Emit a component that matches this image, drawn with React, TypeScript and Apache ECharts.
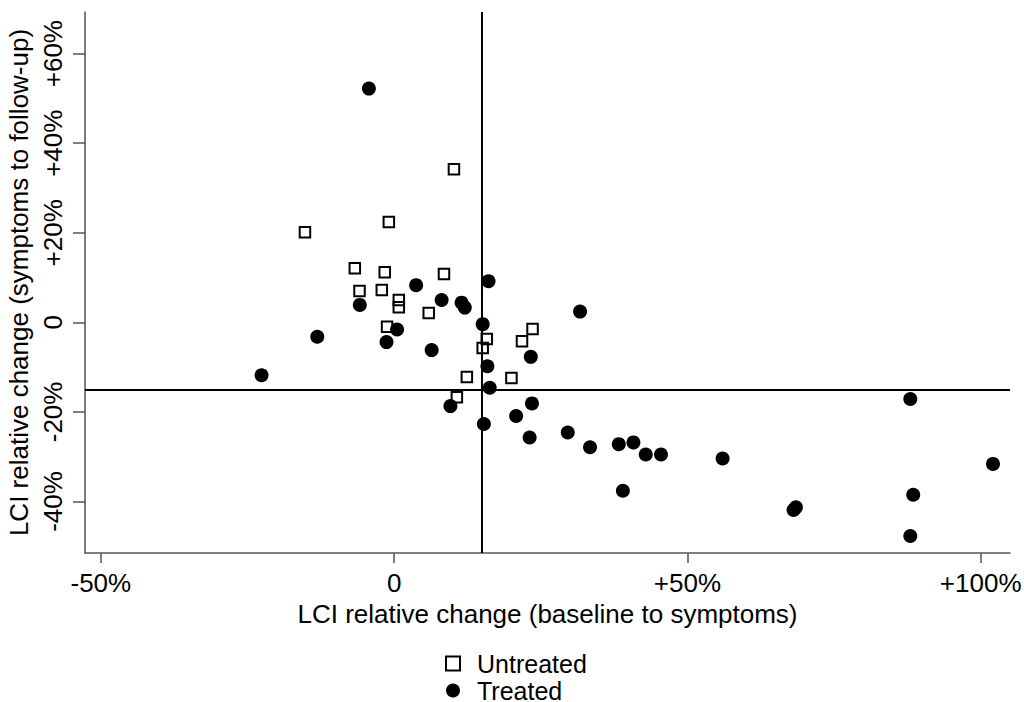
import React, { useEffect, useRef } from "react";
import * as echarts from "echarts";

const untreated: [number, number][] = [
  [10.2, 34.2], [-0.9, 22.4], [-15.2, 20.1], [-6.7, 12.1], [-1.6, 11.2],
  [8.5, 10.8], [-5.9, 7.0], [-2.1, 7.2], [0.8, 5.0], [0.8, 3.4],
  [5.9, 2.1], [-1.2, -1.0], [23.6, -1.5], [21.8, -4.2], [15.8, -3.7],
  [15.1, -5.7], [12.4, -12.2], [20.0, -12.4], [10.7, -16.7],
];

const treated: [number, number][] = [
  [-4.3, 52.2], [3.75, 8.3], [16.1, 9.2], [-5.85, 3.9], [8.1, 5.0],
  [11.5, 4.4], [12.05, 3.3], [15.1, -0.4], [-13.1, -3.2], [0.5, -1.6],
  [-1.3, -4.4], [6.4, -6.2], [15.9, -9.8], [-22.6, -11.8], [16.3, -14.6],
  [9.6, -18.7], [15.3, -22.7], [20.8, -20.9], [31.7, 2.4], [23.3, -7.7],
  [23.5, -18.1], [23.1, -25.7], [29.6, -24.6], [33.4, -27.9], [38.3, -27.2],
  [40.8, -26.8], [42.9, -29.5], [45.5, -29.5], [56.0, -30.4], [39.0, -37.6],
  [68.5, -41.3], [68.1, -41.9], [88.0, -17.1], [88.5, -38.5], [88.0, -47.7],
  [102.1, -31.6],
];

const xTicks = [-50, 0, 50, 100];
const yTicks = [-40, -20, 0, 20, 40, 60];
const refX = 15;
const refY = -15;

const fmt = (v: number) => (v === 0 ? "0" : v > 0 ? "+" + v + "%" : v + "%");

const FONT = "Liberation Sans, Arial, sans-serif";

export default function App() {
  const ref = useRef<HTMLDivElement>(null);
  useEffect(() => {
    if (!ref.current) return;
    const chart = echarts.init(ref.current, undefined, { renderer: "svg" });
    chart.setOption({
      animation: false,
      backgroundColor: "#fff",
      textStyle: { fontFamily: FONT, color: "#000" },
      grid: { left: 85, right: 14, top: 12, bottom: 149, containLabel: false, outerBoundsMode: "none" },
      legend: {
        orient: "vertical",
        left: 445,
        top: 651,
        width: 200,
        height: 90,
        padding: 0,
        itemGap: 2,
        itemWidth: 14,
        itemHeight: 14,
        textStyle: { fontSize: 25, fontFamily: FONT, color: "#000", padding: [0, 0, 0, 12], lineHeight: 24 },
        data: [
          { name: "Untreated", icon: "rect", itemStyle: { color: "transparent", borderColor: "#000", borderWidth: 2, opacity: 1 } },
          { name: "Treated", icon: "circle", itemStyle: { color: "#000", opacity: 1 } },
        ],
      },
      xAxis: {
        type: "value",
        min: -52.7,
        max: 105,
        name: "LCI relative change (baseline to symptoms)",
        nameLocation: "middle",
        nameGap: 46,
        nameTextStyle: { fontSize: 26, fontFamily: FONT, color: "#000" },
        splitLine: { show: false },
        axisLine: { show: true, onZero: false, lineStyle: { color: "#555", width: 1.5 } },
        axisTick: { show: true, length: 10, customValues: xTicks, lineStyle: { color: "#555", width: 1.5 } },
        axisLabel: { customValues: xTicks, formatter: fmt, fontSize: 26, fontFamily: FONT, color: "#000", margin: 17 },
      },
      yAxis: {
        type: "value",
        min: -51.5,
        max: 69.3,
        name: "LCI relative change (symptoms to follow-up)",
        nameLocation: "middle",
        nameGap: 52,
        nameRotate: 90,
        nameTextStyle: { fontSize: 26, fontFamily: FONT, color: "#000" },
        splitLine: { show: false },
        axisLine: { show: true, onZero: false, lineStyle: { color: "#555", width: 1.5 } },
        axisTick: { show: true, length: 12, customValues: yTicks, lineStyle: { color: "#555", width: 1.5 } },
        axisLabel: { customValues: yTicks, formatter: fmt, rotate: 90, fontSize: 26, fontFamily: FONT, color: "#000", margin: 19 },
      },
      series: [
        {
          name: "Untreated",
          type: "scatter",
          data: untreated,
          symbol: "rect",
          symbolSize: 10.5,
          itemStyle: { color: "transparent", borderColor: "#000", borderWidth: 2, opacity: 1 },
          z: 3,
        },
        {
          name: "Treated",
          type: "scatter",
          data: treated,
          symbol: "circle",
          symbolSize: 14,
          itemStyle: { color: "#000", opacity: 1 },
          z: 3,
          markLine: {
            silent: true,
            symbol: "none",
            label: { show: false },
            lineStyle: { color: "#000", width: 2, type: "solid", opacity: 1 },
            data: [{ xAxis: refX }, { yAxis: refY }],
          },
        },
      ],
    });
    return () => chart.dispose();
  }, []);
  return <div ref={ref} style={{ position: "absolute", left: 0, top: 0, width: 1024, height: 702 }} />;
}
